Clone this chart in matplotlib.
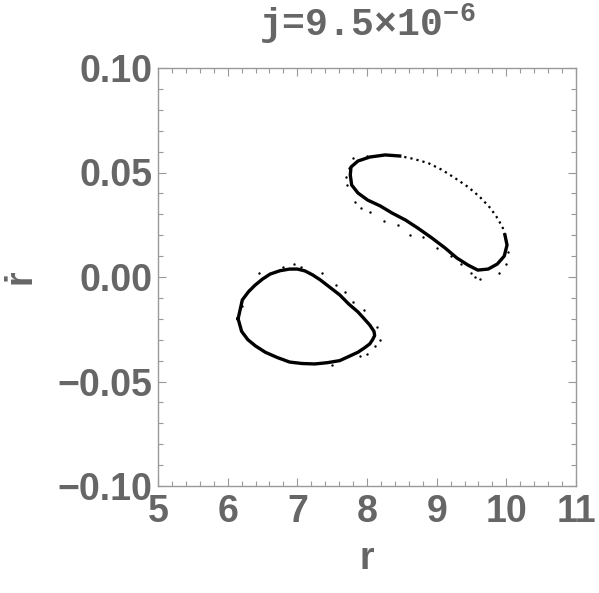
# Phase portrait r vs r-dot, two closed orbits
import matplotlib
matplotlib.use("Agg")
import matplotlib.pyplot as plt
from matplotlib.ticker import MultipleLocator

plt.rcParams["mathtext.fontset"] = "custom"
plt.rcParams["mathtext.rm"] = "Liberation Mono:bold"
plt.rcParams["mathtext.it"] = "Liberation Mono:bold"
plt.rcParams["mathtext.bf"] = "Liberation Mono:bold"

gray = "#666666"
frame = "#999999"

# left orbit (closed)
left_r = [6.15, 6.21, 6.30, 6.39, 6.50, 6.61, 6.75, 6.89, 7.00, 7.11, 7.22, 7.33,
          7.47, 7.61, 7.74, 7.87, 7.96, 8.04, 8.10, 8.11, 8.08, 8.04, 7.96, 7.87,
          7.74, 7.61, 7.43, 7.25, 7.07, 6.89, 6.71, 6.54, 6.40, 6.29, 6.20, 6.15]
left_v = [-0.020, -0.011, -0.007, -0.004, -0.001, 0.0014, 0.003, 0.0038, 0.0038, 0.0029,
          0.001, -0.0014, -0.005, -0.0086, -0.013, -0.0167, -0.020, -0.023, -0.026, -0.028,
          -0.030, -0.032, -0.034, -0.036, -0.038, -0.040, -0.041, -0.0416, -0.0414, -0.0407,
          -0.0385, -0.036, -0.033, -0.030, -0.026, -0.020]

# right orbit, densely sampled part
right_r = [8.47, 8.26, 8.04, 7.87, 7.77, 7.76, 7.78, 7.87, 8.01, 8.19, 8.36, 8.55,
           8.73, 8.93, 9.12, 9.29, 9.45, 9.59, 9.74, 9.87, 9.97, 10.01, 9.98]
right_v = [0.0579, 0.0584, 0.0574, 0.0555, 0.0526, 0.0488, 0.044, 0.0402, 0.0368, 0.034,
           0.0306, 0.0273, 0.0234, 0.0187, 0.0139, 0.0091, 0.0057, 0.0033, 0.0038, 0.0062,
           0.0100, 0.0153, 0.0201]

# right orbit, sparsely sampled arc
arc_r = [9.98, 9.95, 9.88, 9.77, 9.62, 9.45, 9.26, 9.08, 8.88, 8.67, 8.47]
arc_v = [0.0201, 0.0234, 0.0278, 0.0330, 0.0383, 0.0431, 0.0474, 0.0512, 0.0545, 0.0565, 0.0579]

# scattered stray points near the orbits
stray_r = [7.70, 7.74, 7.72, 7.83, 7.92, 8.05, 8.25, 8.45, 8.62, 8.80, 9.00, 9.20, 9.35,
           9.50, 9.62, 9.55, 9.90, 10.03, 10.00, 7.80, 8.00,
           7.35, 7.55, 7.68, 7.80, 7.95, 8.15, 8.18, 8.12, 8.00, 6.95, 7.05, 6.80,
           6.45, 6.20, 6.30, 7.50, 7.90]
stray_v = [0.048, 0.052, 0.044, 0.036, 0.033, 0.031, 0.027, 0.025, 0.020, 0.019, 0.014,
           0.010, 0.006, 0.002, -0.001, 0.000, 0.002, 0.012, 0.006, 0.057, 0.058,
           0.002, -0.004, -0.007, -0.012, -0.016, -0.024, -0.030, -0.033, -0.037,
           0.006, 0.005, 0.005, 0.002, -0.014, -0.006, -0.042, -0.038]

x_ticks = [5, 6, 7, 8, 9, 10, 11]
y_ticks = [-0.10, -0.05, 0.00, 0.05, 0.10]
y_labels = ["\u22120.10", "\u22120.05", "0.00", "0.05", "0.10"]

fig = plt.figure(figsize=(5.99, 5.93), dpi=100)
ax = fig.add_axes([158 / 599, 1 - 486 / 593, 418 / 599, 418 / 593])

ax.plot(left_r, left_v, color="black", lw=2.4)
ax.plot(right_r, right_v, color="black", lw=2.4)
ax.plot(arc_r, arc_v, color="black", lw=1.6, linestyle=(0, (1, 1.8)))
ax.scatter(stray_r, stray_v, s=3, color="black", linewidths=0)

ax.set_xlim(5, 11)
ax.set_ylim(-0.10, 0.10)
ax.set_xticks(x_ticks)
ax.set_yticks(y_ticks)
ax.set_yticklabels(y_labels)
ax.xaxis.set_minor_locator(MultipleLocator(0.2))
ax.yaxis.set_minor_locator(MultipleLocator(0.01))

for s in ax.spines.values():
    s.set_color(frame)
    s.set_linewidth(1.0)

font = dict(family="Liberation Sans", weight="bold", size=27, color=gray)
ax.tick_params(which="both", direction="in", top=True, right=True, color=frame, width=0.8)
ax.tick_params(which="major", length=6)
ax.tick_params(axis="x", which="major", pad=6)
ax.tick_params(axis="y", which="major", pad=4)
ax.tick_params(which="minor", length=3.5)
for lab in ax.get_xticklabels() + ax.get_yticklabels():
    lab.set_fontfamily("Liberation Sans")
    lab.set_fontweight("bold")
    lab.set_fontsize(27)
    lab.set_color(gray)

ax.set_xlabel("r", labelpad=8, **font)
ax.set_ylabel("\u1e59", labelpad=14, **font)
ax.set_title("j=9.5\u00d710$^{-6}$", family="Liberation Mono", weight="bold",
             size=27.5, color=gray, pad=23)

fig.savefig("out.png", dpi=100)
